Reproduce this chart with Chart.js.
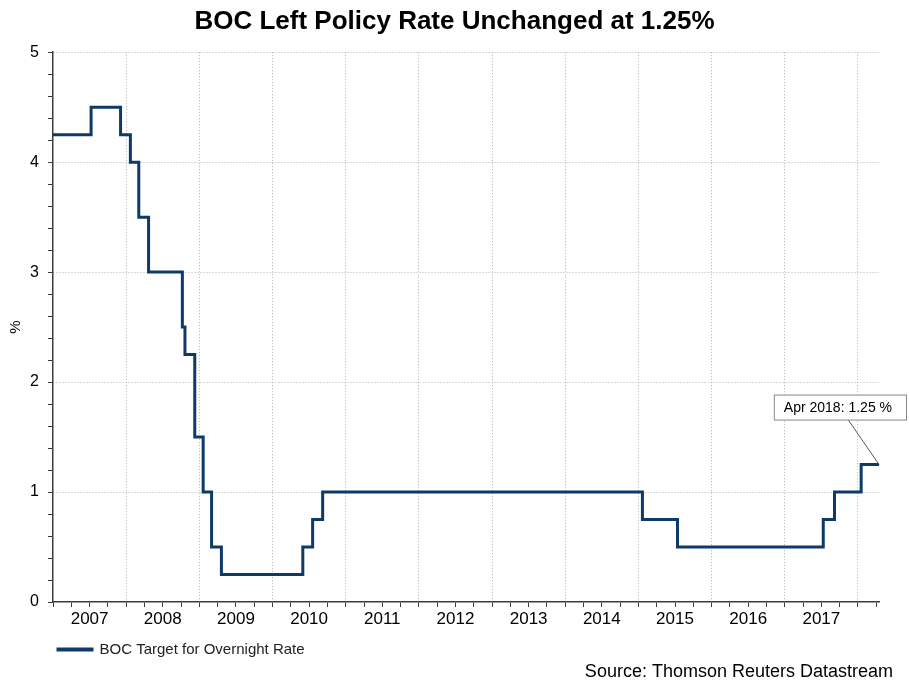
<!DOCTYPE html>
<html>
<head>
<meta charset="utf-8">
<script src="https://cdn.jsdelivr.net/npm/chart.js@4/dist/chart.umd.min.js"></script>
<style>
  html, body { margin: 0; padding: 0; background: #fff; }
  #wrap { width: 909px; height: 682px; }
</style>
</head>
<body>
<div id="wrap"><canvas id="chart" width="909" height="682"></canvas></div>
<script>
// Bank of Canada target rate: dates where the rate changed, and the new rate
const changeDates = ['2007-01-01', '2007-07-10', '2007-12-04', '2008-01-22', '2008-03-04', '2008-04-22',
    '2008-10-08', '2008-10-21', '2008-12-09', '2009-01-20', '2009-03-03', '2009-04-21',
    '2010-06-01', '2010-07-20', '2010-09-08', '2015-01-21', '2015-07-15',
    '2017-07-12', '2017-09-06', '2018-01-17', '2018-04-16'];
const rates = [4.25, 4.5, 4.25, 4.0, 3.5, 3.0,
    2.5, 2.25, 1.5, 1.0, 0.5, 0.25,
    0.5, 0.75, 1.0, 0.75, 0.5,
    0.75, 1.0, 1.25, 1.25];

const years = [2007, 2008, 2009, 2010, 2011, 2012, 2013, 2014, 2015, 2016, 2017];
const yTickLabels = [0, 1, 2, 3, 4, 5];
const annotationText = 'Apr 2018: 1.25 %';
const sourceText = 'Source: Thomson Reuters Datastream';

const FONT = "'Liberation Sans', Arial, sans-serif";
const GRID = '#b4b4b4';
const AXIS = '#3c3c3c';

function toYear(str) {
    const d = new Date(str + 'T00:00:00Z');
    const y = d.getUTCFullYear();
    const start = Date.UTC(y, 0, 1);
    const end = Date.UTC(y + 1, 0, 1);
    return y + (d.getTime() - start) / (end - start);
}

const points = changeDates.map((d, i) => ({ x: toYear(d), y: rates[i] }));

// callout box for the last value, plus the source line
const calloutPlugin = {
    id: 'callout',
    afterDatasetsDraw(chart) {
        const meta = chart.getDatasetMeta(0);
        const last = meta.data[meta.data.length - 1];
        if (!last) return;
        const ctx = chart.ctx;
        const px = last.x, py = last.y;
        ctx.save();
        ctx.font = '14px ' + FONT;
        const tw = ctx.measureText(annotationText).width;
        const right = px + 27, bottom = py - 45, h = 25;
        const w = tw + 24;
        const left = right - w;
        ctx.strokeStyle = '#555';
        ctx.lineWidth = 1;
        ctx.beginPath();
        ctx.moveTo(px - 31, bottom);
        ctx.lineTo(px, py);
        ctx.stroke();
        ctx.fillStyle = '#fff';
        ctx.fillRect(left + 0.5, bottom - h + 0.5, w, h);
        ctx.strokeStyle = '#888';
        ctx.strokeRect(left + 0.5, bottom - h + 0.5, w, h);
        ctx.fillStyle = '#000';
        ctx.textBaseline = 'middle';
        ctx.fillText(annotationText, left + 10, bottom - h / 2 + 1);
        ctx.restore();
    },
    afterDraw(chart) {
        const ctx = chart.ctx;
        ctx.save();
        ctx.font = '18px ' + FONT;
        ctx.fillStyle = '#000';
        ctx.textAlign = 'right';
        ctx.textBaseline = 'middle';
        ctx.fillText(sourceText, chart.width - 16, chart.height - 10);
        ctx.restore();
    }
};

const ctx = document.getElementById('chart').getContext('2d');
new Chart(ctx, {
    type: 'line',
    data: {
        datasets: [{
            label: 'BOC Target for Overnight Rate',
            data: points,
            stepped: true,
            borderColor: '#0e3a68',
            backgroundColor: '#0e3a68',
            borderWidth: 3,
            pointRadius: 0,
            fill: false
        }]
    },
    options: {
        responsive: false,
        animation: false,
        layout: { padding: { left: 0, right: 0, top: 0, bottom: 22 } },
        plugins: {
            title: {
                display: true,
                text: 'BOC Left Policy Rate Unchanged at 1.25%',
                color: '#000',
                font: { family: FONT, size: 26, weight: 'bold' },
                padding: { top: 6, bottom: 15 }
            },
            legend: {
                position: 'bottom',
                align: 'start',
                fullSize: false,
                maxHeight: 23,
                labels: {
                    color: '#222',
                    font: { family: FONT, size: 15 },
                    boxWidth: 34,
                    boxHeight: 1,
                    padding: 5
                }
            },
            tooltip: { enabled: false }
        },
        scales: {
            x: {
                type: 'linear',
                min: points[0].x,
                max: points[points.length - 1].x,
                afterBuildTicks(scale) {
                    const ticks = [];
                    years.concat([years[years.length - 1] + 1]).forEach(y => {
                        for (let q = 0; q < 4; q++) {
                            const v = y + q * 0.25;
                            if (v <= scale.max) ticks.push({ value: v });
                        }
                    });
                    scale.ticks = ticks;
                },
                afterFit(scale) { scale.height = 35; },
                ticks: {
                    autoSkip: false,
                    maxRotation: 0,
                    padding: 2,
                    color: '#000',
                    font: { family: FONT, size: 17 },
                    callback(value) {
                        const y = Math.floor(value);
                        return (value - y === 0.5 && years.includes(y)) ? String(y) : '';
                    }
                },
                grid: {
                    color(c) {
                        const v = c.tick && c.tick.value;
                        return (Number.isInteger(v) && v > years[0]) ? GRID : 'rgba(0,0,0,0)';
                    },
                    tickColor: AXIS,
                    tickLength: 5,
                    lineWidth: 1
                },
                border: { color: AXIS, width: 1.5, dash: [1, 2] }
            },
            y: {
                min: 0,
                max: 5,
                afterBuildTicks(scale) {
                    const ticks = [];
                    for (let i = 0; i <= 25; i++) ticks.push({ value: i / 5 });
                    scale.ticks = ticks;
                },
                afterFit(scale) { scale.width = 53; },
                title: {
                    display: true,
                    text: '%',
                    color: '#000',
                    font: { family: FONT, size: 15 },
                    padding: { top: 7, bottom: 0 }
                },
                ticks: {
                    autoSkip: false,
                    padding: 9,
                    color: '#000',
                    font: { family: FONT, size: 16 },
                    callback(value) {
                        return yTickLabels.includes(value) ? String(value) : '';
                    }
                },
                grid: {
                    color(c) {
                        const v = c.tick && c.tick.value;
                        return (yTickLabels.includes(v) && v > 0) ? GRID : 'rgba(0,0,0,0)';
                    },
                    tickColor: AXIS,
                    tickLength: 5,
                    lineWidth: 1
                },
                border: { color: AXIS, width: 1.5, dash: [1, 2] }
            },
            // empty spacer on the right so the plot ends where the reference does
            yRight: {
                position: 'right',
                min: 0,
                max: 1,
                afterFit(scale) { scale.width = 30; },
                ticks: { display: false },
                grid: { display: false },
                border: { display: false }
            }
        }
    },
    plugins: [calloutPlugin]
});
</script>
</body>
</html>
